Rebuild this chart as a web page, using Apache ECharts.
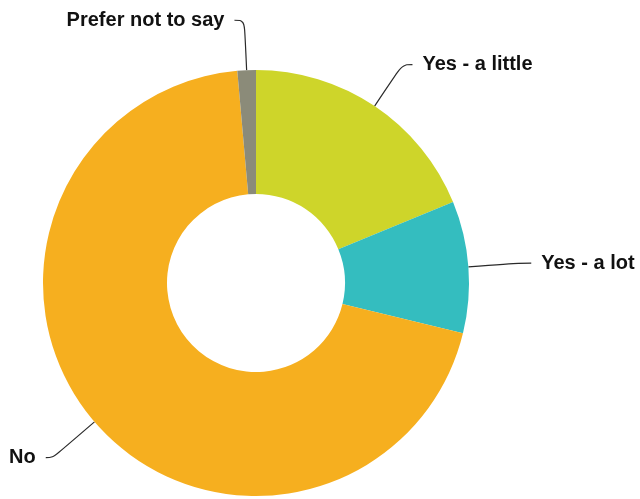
<!DOCTYPE html>
<html>
<head>
<meta charset="utf-8">
<script src="https://cdn.jsdelivr.net/npm/echarts@6/dist/echarts.min.js"></script>
<style>
  html, body { margin: 0; padding: 0; background: #ffffff; }
  #chart { width: 640px; height: 499px; }
</style>
</head>
<body>
<div id="chart"></div>
<script>
// Survey answers, clockwise from 12 o'clock
const categories = ['Yes - a little', 'Yes - a lot', 'No', 'Prefer not to say'];
const shares = [18.8, 10.0, 69.8, 1.4];
const sliceColors = ['#CED52A', '#34BDBF', '#F6AF1F', '#8B8B79'];

// Leader line lengths per slice (radial part, horizontal part)
const leaderLengths = [[50, 10], [50, 13], [55, 7], [50, 10]];

const chart = echarts.init(document.getElementById('chart'), null, { renderer: 'canvas' });

const pieData = categories.map((name, i) => ({
  name: name,
  value: shares[i],
  itemStyle: { color: sliceColors[i] },
  labelLine: { length: leaderLengths[i][0], length2: leaderLengths[i][1] }
}));

chart.setOption({
  animation: false,
  backgroundColor: '#ffffff',
  series: [{
    type: 'pie',
    left: 0,
    top: 0,
    right: -80,
    bottom: 0,
    center: [256, 283],
    radius: [89, 213],
    startAngle: 90,
    clockwise: true,
    avoidLabelOverlap: false,
    silent: true,
    itemStyle: { borderWidth: 0 },
    label: {
      show: true,
      position: 'outside',
      formatter: '{b}',
      color: '#111111',
      fontFamily: 'Liberation Sans, Arial, sans-serif',
      fontWeight: 'bold',
      fontSize: 20,
      distanceToLabelLine: 10,
      bleedMargin: 0
    },
    labelLine: {
      show: true,
      length: 50,
      length2: 10,
      smooth: 0.4,
      lineStyle: { color: '#2a2a2a', width: 1.2 }
    },
    data: pieData
  }]
});
</script>
</body>
</html>
